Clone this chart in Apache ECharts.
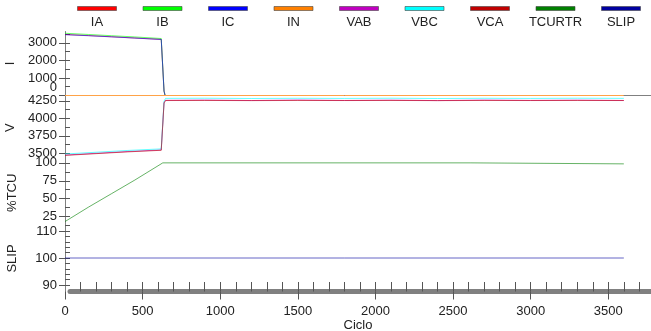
<!DOCTYPE html>
<html>
<head>
<meta charset="utf-8">
<script src="https://cdn.jsdelivr.net/npm/echarts@6/dist/echarts.min.js"></script>
<style>
  html, body { margin: 0; padding: 0; background: #fff; }
  #chart { width: 651px; height: 331px; }
</style>
</head>
<body>
<div id="chart"></div>
<script>
// ---- data ----
const seriesNames = ["IA", "IB", "IC", "IN", "VAB", "VBC", "VCA", "TCURTR", "SLIP"];
const seriesColors = ["#ff0000", "#00ff00", "#0000ff", "#ff8000", "#c000c0", "#00ffff", "#c00000", "#008000", "#0000a0"];

// currents (A)
const cyclesI = [0, 150, 300, 450, 620, 628, 638, 645, 3600];
const iaValues = [3480, 3420, 3350, 3280, 3200, 3180, 250, 0, 0];
const ibValues = [3550, 3480, 3410, 3340, 3250, 3230, 250, 0, 0];
const icValues = [3470, 3410, 3345, 3275, 3195, 3175, 250, 0, 0];
const cyclesIN = [0, 3600];
const inValues = [0, 0];

// voltages (V)
const cyclesV = [0, 200, 400, 620, 628, 638, 648, 900, 1200, 1500, 1800, 2100, 2400, 2700, 3000, 3300, 3600];
const vabValues = [3475, 3500, 3525, 3548, 3552, 4225, 4258, 4262, 4255, 4263, 4256, 4261, 4254, 4262, 4257, 4261, 4256];
const vbcValues = [3490, 3515, 3540, 3563, 3567, 4245, 4286, 4288, 4284, 4287, 4285, 4288, 4284, 4287, 4285, 4288, 4286];
const vcaValues = [3470, 3495, 3520, 3543, 3547, 4220, 4255, 4256, 4254, 4256, 4255, 4256, 4254, 4256, 4255, 4256, 4255];

// thermal capacity used (%)
const cyclesT = [0, 150, 300, 450, 630, 2615, 2620, 3600];
const tcuValues = [18, 38, 57, 76, 100, 100, 98.6, 98.6];

// slip
const cyclesS = [0, 3600];
const slipValues = [100, 100];

// axis ticks
const xTicks = [0, 500, 1000, 1500, 2000, 2500, 3000, 3500];
const xMinorTicks = [100, 200, 300, 400, 500, 600, 700, 800, 900, 1000, 1100, 1200, 1300, 1400, 1500, 1600, 1700, 1800, 1900, 2000, 2100, 2200, 2300, 2400, 2500, 2600, 2700, 2800, 2900, 3000, 3100, 3200, 3300, 3400, 3500, 3600, 3700];
const iTicks = [0, 1000, 2000, 3000];
const iMinor = [500, 1500, 2500, 3500];
const vTicks = [3500, 3750, 4000, 4250];
const vMinor = [3625, 3875, 4125];
const tcuTicks = [25, 50, 75, 100];
const tcuMinor = [12.5, 37.5, 62.5, 87.5];
const slipTicks = [90, 100, 110];
const slipMinor = [92, 94, 96, 98, 102, 104, 106, 108];

const zip = (xs, ys) => xs.map((x, i) => [x, ys[i]]);

const FONT = "Liberation Sans";
const xMax = 3775;
const axisGray = "#808080";
const tickGray = "#555";

const panels = [
  { name: "I", top: 31.5, height: 64, min: 0, max: 3650, ticks: iTicks, minor: iMinor },
  { name: "V", top: 95.5, height: 64.5, min: 3404, max: 4327, ticks: vTicks, minor: vMinor },
  { name: "%TCU", top: 160, height: 65.5, min: 12.5, max: 104, ticks: tcuTicks, minor: tcuMinor },
  { name: "SLIP", top: 225.5, height: 66, min: 87.6, max: 112.04, ticks: slipTicks, minor: slipMinor }
];

let grids = panels.map(p => ({ left: 65, right: 0, top: p.top, height: p.height, outerBoundsMode: "none", containLabel: false }));
grids.push({ left: 65, right: 0, top: 291.5, height: 0, outerBoundsMode: "none", containLabel: false }); // x labels
grids.push({ left: 70, right: 0, top: 291.5, height: 0, outerBoundsMode: "none", containLabel: false }); // gray bar

let xAxes = panels.map((p, i) => ({
  type: "value", gridIndex: i, min: 0, max: xMax,
  position: i === 0 ? "top" : "bottom",
  axisLine: { show: i === 0, lineStyle: { color: axisGray } },
  axisTick: i === 3 ? { show: true, inside: true, length: 9.5, customValues: xMinorTicks, lineStyle: { color: tickGray } } : { show: false },
  axisLabel: { show: false },
  splitLine: { show: false }
}));
xAxes.push({
  type: "value", gridIndex: 4, min: 0, max: xMax, position: "bottom",
  axisLine: { show: false },
  axisTick: { show: true, inside: false, length: 8, customValues: xTicks, lineStyle: { color: tickGray } },
  axisLabel: {
    customValues: xTicks, margin: 13, fontSize: 13, fontFamily: FONT, color: "#222",
    showMinLabel: true, showMaxLabel: true, formatter: v => String(v)
  },
  splitLine: { show: false },
  name: "Ciclo", nameLocation: "middle", nameGap: 27,
  nameTextStyle: { fontSize: 13, fontFamily: FONT, color: "#222" }
});
xAxes.push({
  type: "value", gridIndex: 5, min: 0, max: xMax, position: "bottom",
  axisLine: { show: true, lineStyle: { color: "#808080", width: 5 } },
  axisTick: { show: false }, axisLabel: { show: false }, splitLine: { show: false }
});

const labelStyle = { fontSize: 13, fontFamily: FONT, color: "#222" };

// main y axes: outer ticks, labels, names ("0" of the I panel is drawn by its aux axis)
let yAxes = panels.map((p, i) => {
  const labelValues = i === 0 ? p.ticks.filter(v => v !== 0) : p.ticks;
  return {
    type: "value", gridIndex: i, position: "left", min: p.min, max: p.max,
    axisLine: { show: true, lineStyle: { color: axisGray } },
    axisTick: { show: true, inside: false, length: 6, customValues: p.ticks, lineStyle: { color: tickGray } },
    axisLabel: Object.assign({ customValues: labelValues, margin: 8, showMinLabel: true, showMaxLabel: true, formatter: v => String(v) }, labelStyle),
    splitLine: { show: false },
    name: p.name, nameLocation: "middle", nameGap: 46,
    nameTextStyle: labelStyle
  };
});
// aux y axes: inner major + minor ticks
panels.forEach((p, i) => {
  yAxes.push({
    type: "value", gridIndex: i, position: "left", min: p.min, max: p.max,
    axisLine: { show: false },
    axisTick: { show: true, inside: true, length: 5, customValues: p.ticks.concat(p.minor), lineStyle: { color: tickGray } },
    axisLabel: i === 0 ? Object.assign({
      customValues: [0], margin: 8, showMinLabel: true,
      formatter: () => "{lo|0}",
      rich: { lo: Object.assign({ padding: [0, 0, 17, 0] }, labelStyle) }
    }, labelStyle) : { show: false },
    splitLine: { show: false }
  });
});
yAxes.push({ type: "value", gridIndex: 4, show: false });
yAxes.push({ type: "value", gridIndex: 5, show: false });

function lineSeries(idx, panel, xs, ys) {
  return {
    name: seriesNames[idx], type: "line", xAxisIndex: panel, yAxisIndex: panel,
    data: zip(xs, ys), symbol: "none", silent: true,
    lineStyle: { color: seriesColors[idx], width: 1, opacity: 0.6 }
  };
}

const series = [
  lineSeries(0, 0, cyclesI, iaValues),
  lineSeries(1, 0, cyclesI, ibValues),
  lineSeries(2, 0, cyclesI, icValues),
  lineSeries(3, 0, cyclesIN, inValues),
  lineSeries(4, 1, cyclesV, vabValues),
  lineSeries(5, 1, cyclesV, vbcValues),
  lineSeries(6, 1, cyclesV, vcaValues),
  lineSeries(7, 2, cyclesT, tcuValues),
  lineSeries(8, 3, cyclesS, slipValues)
];
series[3].lineStyle = { color: "#ffa347", width: 1, opacity: 1 };
series[3].z = 3;

// legend: coloured bar above each name
const legendItems = [];
seriesNames.forEach((n, i) => {
  const cx = 97 + i * 65.5;
  legendItems.push({
    type: "rect", shape: { x: cx - 19.5, y: 6.5, width: 39, height: 4 },
    style: { fill: seriesColors[i], stroke: "#444", lineWidth: 0.6 }
  });
  legendItems.push({
    type: "text", x: cx, y: 22.5,
    style: { text: n, align: "center", verticalAlign: "middle", font: "13px " + FONT, fill: "#222" }
  });
});

const chart = echarts.init(document.getElementById("chart"));
chart.setOption({
  animation: false,
  backgroundColor: "#fff",
  grid: grids,
  xAxis: xAxes,
  yAxis: yAxes,
  graphic: legendItems,
  series: series
});
</script>
</body>
</html>
